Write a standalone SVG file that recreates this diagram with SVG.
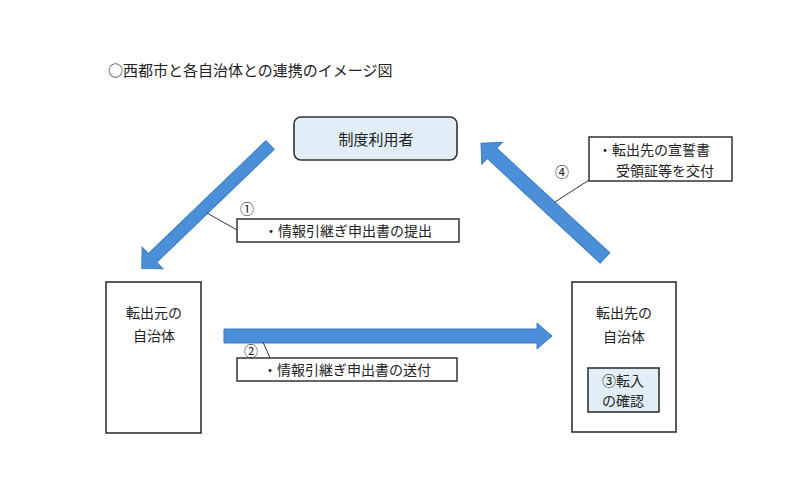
<svg xmlns="http://www.w3.org/2000/svg" width="800" height="488" viewBox="0 0 800 488">
<style>
text{font-family:"Noto Sans CJK JP","Noto Sans",sans-serif;fill:#222}
.t{font-size:14px}
.c{text-anchor:middle}
.box{fill:#fff;stroke:#333;stroke-width:1.6}
.lbl{fill:#fff;stroke:#333;stroke-width:1.5}
.lt{fill:#e1eef8;stroke:#333;stroke-width:1.6}
.arr{fill:#4a8fd8;stroke:#3b7cc4;stroke-width:1}
.lead{stroke:#333;stroke-width:1;fill:none}
</style>
<rect width="800" height="488" fill="#fff"/>
<text x="108" y="76" style="font-size:15px">○西都市と各自治体との連携のイメージ図</text>

<g id="user">
<rect class="lt" x="294" y="117" width="163" height="43" rx="7"/>
<text class="c" x="376" y="145" style="font-size:15px">制度利用者</text>
</g>

<g id="origin">
<rect class="box" x="106" y="282" width="95" height="151"/>
<text class="t c" x="154" y="318">転出元の</text>
<text class="t c" x="154" y="341">自治体</text>
</g>

<g id="dest">
<rect class="box" x="572" y="282" width="104" height="150"/>
<text class="t c" x="624" y="318">転出先の</text>
<text class="t c" x="624" y="342">自治体</text>
<g id="confirm">
<rect class="lt" x="588" y="368" width="71" height="44"/>
<text class="t c" x="623" y="386">③転入</text>
<text class="t c" x="623" y="406">の確認</text>
</g>
</g>

<g id="connectors">
<polygon class="arr" points="0,-6 163,-6 163,-15 178,0 163,15 163,6 0,6" transform="translate(270,145) rotate(136.1)"/>
<polygon class="arr" points="0,-7 154,-7 154,-15 169,0 154,15 154,7 0,7" transform="translate(605,258) rotate(222.8)"/>
<polygon class="arr" points="0,-7 313,-7 313,-13 328,0 313,13 313,7 0,7" transform="translate(224,336)"/>
<line class="lead" x1="207" y1="213" x2="237" y2="230"/>
<line class="lead" x1="263" y1="342" x2="270" y2="358"/>
<line class="lead" x1="555" y1="202" x2="589" y2="180"/>
</g>

<g id="label1">
<text class="t" x="240" y="214">①</text>
<rect class="lbl" x="237" y="219" width="222" height="23"/>
<text class="t c" x="348" y="236">・情報引継ぎ申出書の提出</text>
</g>

<g id="label2">
<text class="t" x="244" y="356">②</text>
<rect class="lbl" x="237" y="358" width="220" height="23"/>
<text class="t c" x="347" y="375">・情報引継ぎ申出書の送付</text>
</g>

<g id="label4">
<text class="t" x="555" y="177">④</text>
<rect class="lbl" x="589" y="137" width="143" height="44"/>
<text class="t" x="598" y="155">・転出先の宣誓書</text>
<text class="t" x="616" y="176">受領証等を交付</text>
</g>
</svg>
